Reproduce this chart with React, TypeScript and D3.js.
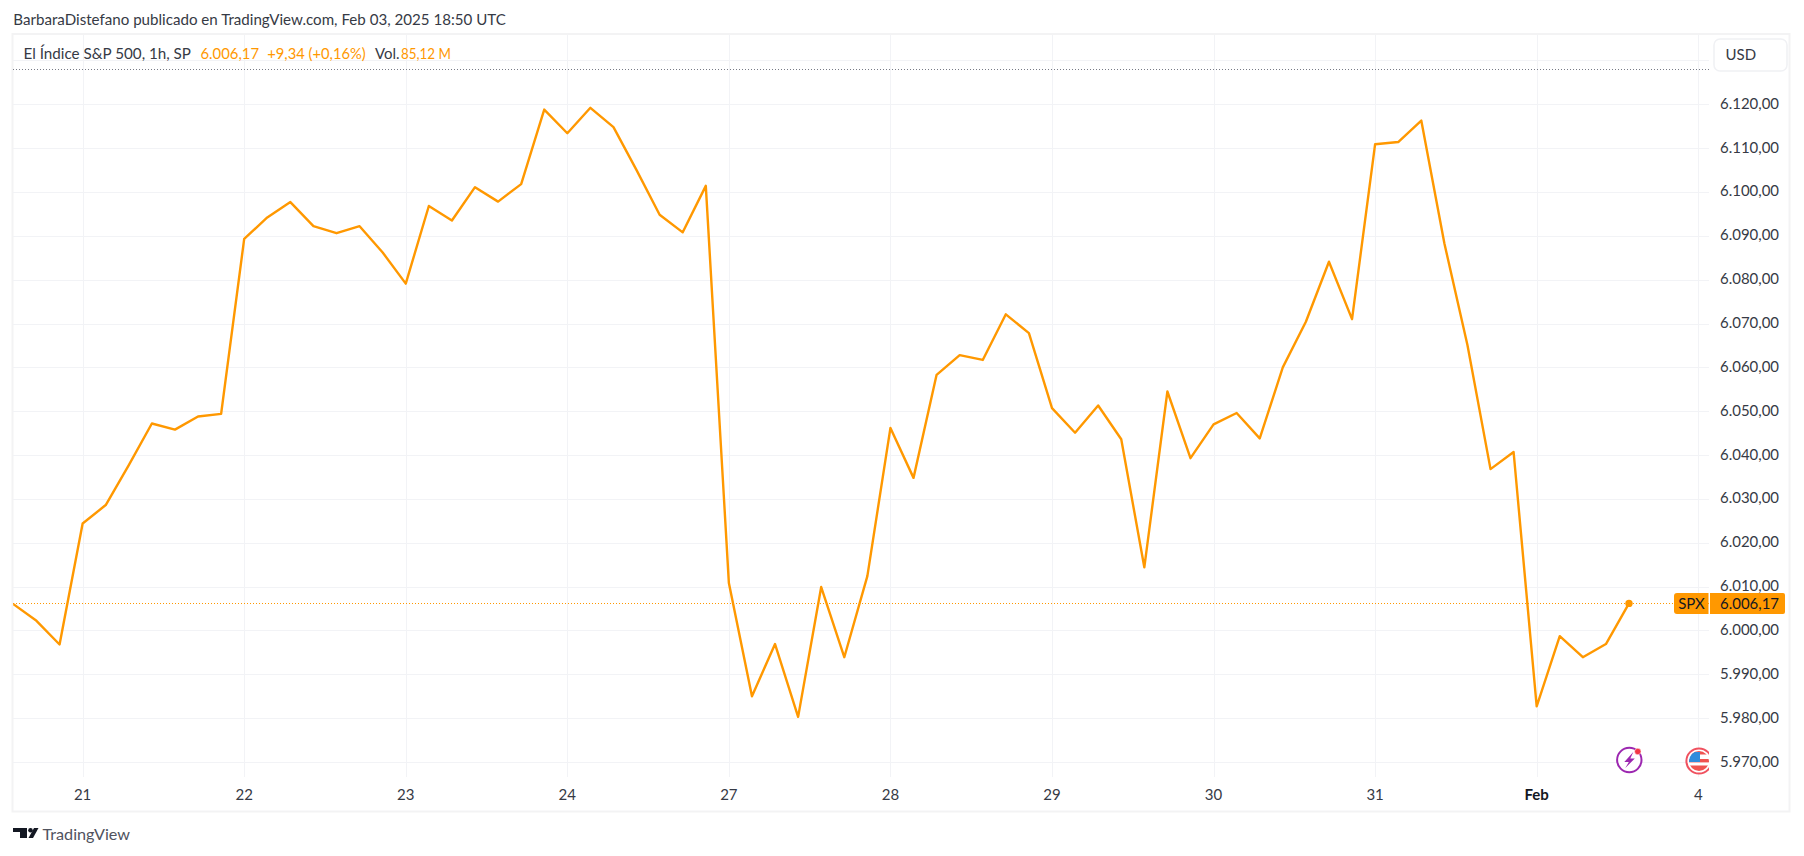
import React from "react";
import * as d3 from "d3";

const closes = [
  6006.0, 6002.2, 5996.8, 6024.4, 6028.6, 6037.7, 6047.2, 6045.8, 6048.8, 6049.4,
  6089.3, 6094.2, 6097.7, 6092.2, 6090.6, 6092.2, 6086.2, 6079.1, 6096.8, 6093.5,
  6101.1, 6097.8, 6101.8, 6118.8, 6113.4, 6119.2, 6114.8, 6105.0, 6094.8, 6090.8,
  6101.4, 6010.8, 5985.0, 5996.9, 5980.3, 6009.9, 5993.9, 6012.4, 6046.2, 6034.8,
  6058.3, 6062.8, 6061.7, 6072.1, 6067.8, 6050.7, 6045.1, 6051.3, 6043.6, 6014.4,
  6054.5, 6039.3, 6047.0, 6049.6, 6043.8, 6060.0, 6070.4, 6084.1, 6071.0, 6110.9,
  6111.4, 6116.3, 6088.3, 6065.1, 6036.8, 6040.7, 5982.7, 5998.7, 5993.9, 5996.9,
  6006.17,
];
const dayLabels = ["21", "22", "23", "24", "27", "28", "29", "30", "31", "Feb", "4"];
const dayBarIndex = [3, 10, 17, 24, 31, 38, 45, 52, 59, 66, 73];
const priceTicks = [6130, 6120, 6110, 6100, 6090, 6080, 6070, 6060, 6050, 6040, 6030, 6020, 6010, 6000, 5990, 5980, 5970];
const labelledPrices = priceTicks.slice(1);

const FONT = "Lato, 'Noto Sans', sans-serif";
const ORANGE = "#ff9800";
const TEXT = "#363a45";
const GRID = "#f2f3f6";
const FRAME = "#f3f3f4";

const plot = { left: 13, right: 1709, top: 35, bottom: 777 };

const x = d3.scaleLinear().domain([0, 70]).range([13.4, 1629]);
const y = d3.scaleLinear().domain([5970, 6120]).range([762, 104.3]);

const fmt = (v: number) => {
  const [a, b] = v.toFixed(2).split(".");
  return a.slice(0, 1) + "." + a.slice(1) + "," + b;
};

const lineGen = d3
  .line<number>()
  .x((_, i) => x(i))
  .y((d) => y(d))
  .curve(d3.curveLinear);

export default function App() {
  const last = closes[closes.length - 1];
  const yLast = Math.round(y(last)) + 0.5;
  const xLast = x(closes.length - 1);
  return (
    <svg
      width={1804}
      height={856}
      viewBox="0 0 1804 856"
      style={{ position: "absolute", left: 0, top: 0, background: "#fff", fontFamily: FONT }}
    >
      <defs>
        <clipPath id="plotClip">
          <rect x={plot.left} y={plot.top} width={plot.right - plot.left} height={plot.bottom - plot.top} />
        </clipPath>
      </defs>

      <text x={13.3} y={24.5} fontSize={15} fill={TEXT} textLength={492.5} lengthAdjust="spacingAndGlyphs">
        BarbaraDistefano publicado en TradingView.com, Feb 03, 2025 18:50 UTC
      </text>

      <rect x={12.5} y={34} width={1777} height={777.5} fill="none" stroke={FRAME} strokeWidth={2} />

      <g clipPath="url(#plotClip)">
        {priceTicks.map((p) => (
          <line key={p} x1={plot.left} x2={plot.right} y1={Math.round(y(p)) + 0.5} y2={Math.round(y(p)) + 0.5} stroke={GRID} />
        ))}
        {dayBarIndex.map((b) => (
          <line key={b} x1={Math.round(x(b)) + 0.5} x2={Math.round(x(b)) + 0.5} y1={plot.top} y2={plot.bottom} stroke={GRID} />
        ))}
        <line x1={plot.left} x2={plot.right} y1={69.5} y2={69.5} stroke="#787b86" strokeDasharray="1 2" />
        <line x1={plot.left} x2={plot.right} y1={yLast} y2={yLast} stroke={ORANGE} strokeDasharray="1 2" />
        <path d={lineGen(closes) ?? ""} fill="none" stroke={ORANGE} strokeWidth={2.4} strokeLinejoin="round" />
        <circle cx={xLast} cy={y(last)} r={3.7} fill={ORANGE} />

        {/* event icons */}
        <g transform="translate(1629.3,760)">
          <circle r={12.2} fill="#fff" stroke="#9c27b0" strokeWidth={2} />
          <path d="M4,-8 L-5,2 L-0.5,2 L-4,8 L5.5,-1.5 L1,-1.5 Z" fill="#9c27b0" />
          <circle cx={8.5} cy={-8.5} r={3.2} fill="#f23645" stroke="#fff" strokeWidth={0.5} />
        </g>
        <g transform="translate(1699,761)">
          <circle r={12.6} fill="#fff" stroke="#f0515f" strokeWidth={2} />
          <clipPath id="flagClip"><circle r={10} /></clipPath>
          <g clipPath="url(#flagClip)">
            <rect x={-10} y={-10} width={20} height={20} fill="#fff" />
            <rect x={-10} y={-2} width={20} height={3.4} fill="#ef5350" />
            <rect x={-10} y={4.5} width={20} height={6} fill="#ef5350" />
            <rect x={-10} y={-10} width={20} height={3.5} fill="#ef5350" />
            <rect x={-10} y={-9} width={11} height={10} fill="#2f8cdc" />
          </g>
        </g>
      </g>

      <text x={23.5} y={58.5} fontSize={15} fill={TEXT} textLength={167.5} lengthAdjust="spacingAndGlyphs">
        El Índice S&amp;P 500, 1h, SP
      </text>
      <text x={200.5} y={58.5} fontSize={15} fill={ORANGE} textLength={58.5} lengthAdjust="spacingAndGlyphs">6.006,17</text>
      <text x={267.3} y={58.5} fontSize={15} fill={ORANGE} textLength={98.4} lengthAdjust="spacingAndGlyphs">+9,34 (+0,16%)</text>
      <text x={375} y={58.5} fontSize={15} fill={TEXT} textLength={24.5} lengthAdjust="spacingAndGlyphs">Vol.</text>
      <text x={401} y={58.5} fontSize={15} fill={ORANGE} textLength={50} lengthAdjust="spacingAndGlyphs">85,12 M</text>

      {labelledPrices.map((p) => (
        <text key={p} x={1779} y={y(p) + 4.5} textAnchor="end" fontSize={15} fill={TEXT} textLength={59} lengthAdjust="spacingAndGlyphs">
          {fmt(p)}
        </text>
      ))}

      {dayLabels.map((d, i) => (
        <text
          key={d}
          x={x(dayBarIndex[i])}
          y={800}
          textAnchor="middle"
          fontSize={15}
          fontWeight={d === "Feb" ? 700 : 400}
          fill={d === "Feb" ? "#131722" : TEXT}
        >
          {d}
        </text>
      ))}

      <rect x={1714} y={39} width={73} height={32} rx={6} fill="#fff" stroke="#f0f1f4" strokeWidth={1.5} />
      <text x={1725.5} y={60} fontSize={15} fill={TEXT}>USD</text>

      <path d="M1674,596 a3,3 0 0 1 3,-3 H1708.5 V614 H1677 a3,3 0 0 1 -3,-3 Z" fill={ORANGE} />
      <text x={1691.5} y={608.5} textAnchor="middle" fontSize={15} fill="#131722">SPX</text>
      <path d="M1710,593 H1783 a2,2 0 0 1 2,2 V612 a2,2 0 0 1 -2,2 H1710 Z" fill={ORANGE} />
      <text x={1779} y={608.5} textAnchor="end" fontSize={15} fill="#131722" textLength={59} lengthAdjust="spacingAndGlyphs">
        {fmt(last)}
      </text>

      {/* TradingView logo */}
      <g fill="#131722">
        <path d="M13,828 H27 V838 H20 V832 H13 Z" />
        <circle cx={30.5} cy={830.2} r={2.3} />
        <path d="M34,828 H38.5 L33,838 H28.5 Z" />
      </g>
      <text x={42.5} y={839.5} fontSize={16} fill="#50535e" textLength={87.5} lengthAdjust="spacingAndGlyphs">TradingView</text>
    </svg>
  );
}
